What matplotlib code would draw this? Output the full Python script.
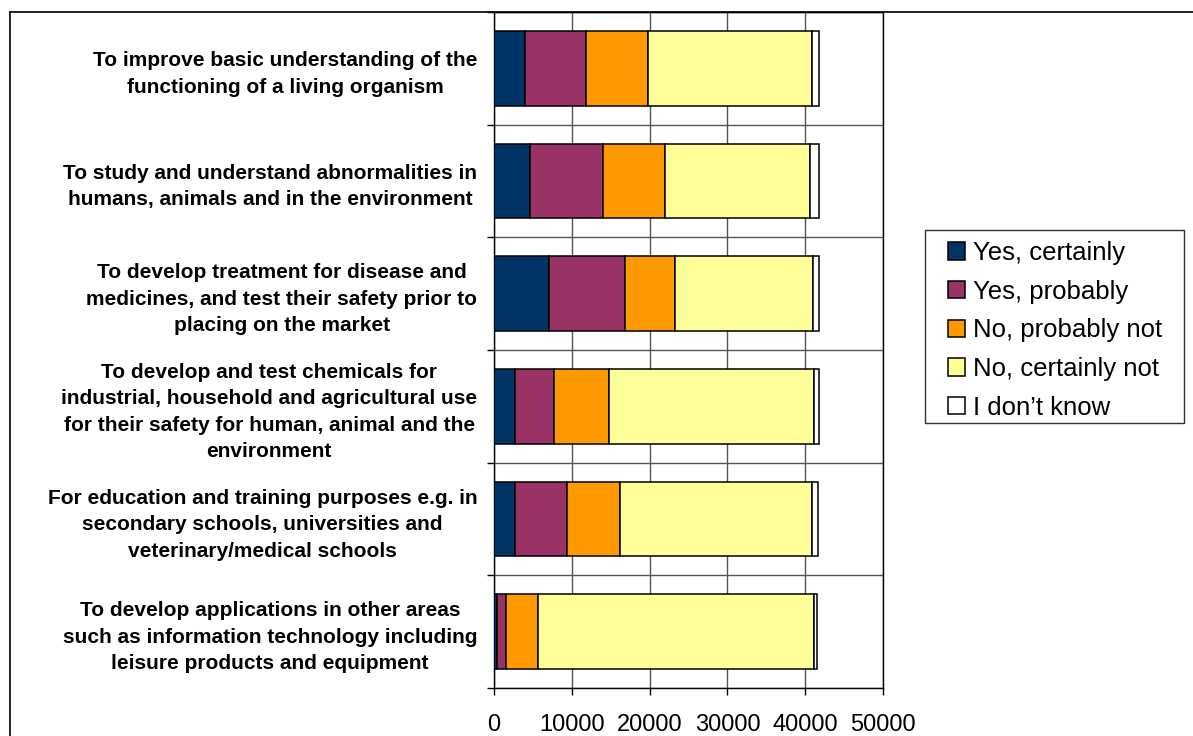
import matplotlib
matplotlib.use("Agg")
import matplotlib.pyplot as plt
from matplotlib.lines import Line2D
from matplotlib.patches import Rectangle
import numpy as np

plt.rcParams['font.family'] = ['Liberation Sans', 'DejaVu Sans']

categories = [
    "To improve basic understanding of the\nfunctioning of a living organism",
    "To study and understand abnormalities in\nhumans, animals and in the environment",
    "To develop treatment for disease and\nmedicines, and test their safety prior to\nplacing on the market",
    "To develop and test chemicals for\nindustrial, household and agricultural use\nfor their safety for human, animal and the\nenvironment",
    "For education and training purposes e.g. in\nsecondary schools, universities and\nveterinary/medical schools",
    "To develop applications in other areas\nsuch as information technology including\nleisure products and equipment",
]
series_names = ["Yes, certainly", "Yes, probably", "No, probably not",
                "No, certainly not", "I don\u2019t know"]
yes_certainly = [3940, 4580, 7070, 2660, 2660, 430]
yes_probably = [7880, 9380, 9800, 5050, 6680, 1110]
no_probably_not = [7970, 8010, 6430, 7020, 6850, 4160]
no_certainly_not = [21020, 18590, 17690, 26340, 24710, 35370]
dont_know = [990, 1150, 810, 690, 770, 510]
x_ticks = [0, 10000, 20000, 30000, 40000, 50000]
colors = ['#003366', '#993366', '#FF9900', '#FFFF99', '#FFFFFF']

W, H = 1193, 736
fig = plt.figure(figsize=(W / 100, H / 100), dpi=100)
ax = fig.add_axes([494 / W, (H - 688) / H, (883 - 494) / W, (688 - 12) / H])

series = [yes_certainly, yes_probably, no_probably_not, no_certainly_not, dont_know]
y = np.arange(len(categories))
left = np.zeros(len(categories))
for vals, c, name in zip(series, colors, series_names):
    ax.barh(y, vals, left=left, height=0.665, color=c, edgecolor='black',
            linewidth=1.1, label=name, zorder=3)
    left += np.array(vals)

ax.set_xlim(0, 50000)
ax.set_ylim(len(categories) - 0.5, -0.5)
ax.set_xticks(x_ticks)
ax.set_xticklabels([str(v) for v in x_ticks], fontsize=17)
ax.tick_params(axis='x', length=5, width=1, pad=14, direction='out', color='black')
ax.xaxis.grid(True, color='#555555', linewidth=1, zorder=0)

ax.set_yticks(y)
ax.set_yticklabels(categories, fontsize=15, fontweight='bold', linespacing=1.5)
for t in ax.get_yticklabels():
    t.set_multialignment('center')
ax.tick_params(axis='y', which='major', length=0, pad=12)
ax.set_yticks(np.arange(-0.5, len(categories) + 0.5, 1), minor=True)
ax.tick_params(axis='y', which='minor', length=5, width=1, direction='out', color='black')
ax.yaxis.grid(True, which='minor', color='#555555', linewidth=1, zorder=0)
for s in ax.spines.values():
    s.set_color('black')
    s.set_linewidth(1)
ax.set_axisbelow(True)

# outer chart frame (left and top edges visible)
fig.add_artist(Line2D([10 / W, 10 / W], [0, (H - 12) / H], color='black', lw=1.2,
                      transform=fig.transFigure))
fig.add_artist(Line2D([10 / W, 1], [(H - 12) / H, (H - 12) / H], color='black', lw=1.2,
                      transform=fig.transFigure))

# legend frame
fig.add_artist(Rectangle((925 / W, (H - 423) / H), (1184 - 925) / W, (423 - 230) / H,
                         transform=fig.transFigure, facecolor='white',
                         edgecolor='#333333', linewidth=1, zorder=1))
leg = fig.legend(loc='upper left', bbox_to_anchor=(948 / W, (H - 241) / H),
                 bbox_transform=fig.transFigure, fontsize=18.5, frameon=False,
                 borderaxespad=0, borderpad=0,
                 handlelength=0.66, handleheight=0.66, handletextpad=0.3,
                 labelspacing=0.57)
leg.set_zorder(2)

fig.savefig('out.png', dpi=100)
